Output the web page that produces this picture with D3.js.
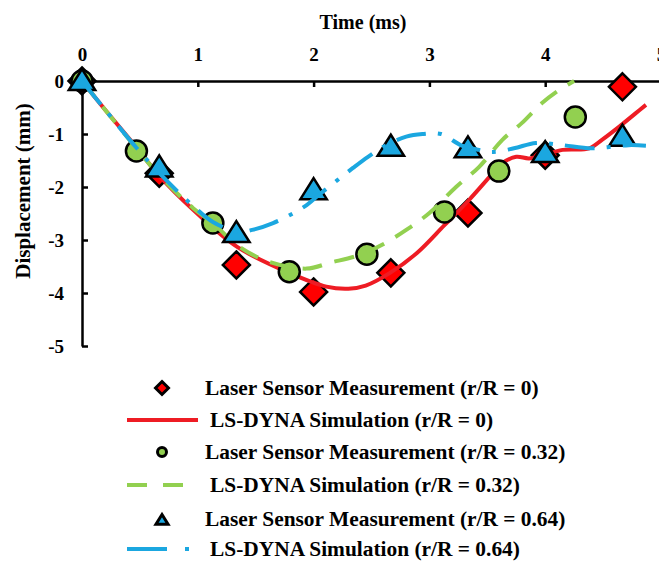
<!DOCTYPE html>
<html>
<head>
<meta charset="utf-8">
<script src="https://cdn.jsdelivr.net/npm/d3@7"></script>
<style>
  html, body { margin: 0; padding: 0; background: #fff; }
  svg { display: block; }
  text { font-family: "Times New Roman", "Liberation Serif", "DejaVu Serif", serif; font-weight: bold; fill: #000; }
</style>
</head>
<body>
<svg id="chart" width="659" height="563"></svg>
<script>
// Axis ticks
const timeTicks = [0, 1, 2, 3, 4, 5];
const dispTicks = [0, -1, -2, -3, -4, -5];

// Laser sensor measurements: time (ms) and displacement (mm)
const laserT0 = [0, 0.667, 1.333, 2.0, 2.667, 3.333, 4.0, 4.667];
const laserD0 = [0, -1.74, -3.47, -3.98, -3.62, -2.49, -1.40, -0.11];

const laserT32 = [0, 0.47, 1.13, 1.79, 2.46, 3.13, 3.6, 4.26];
const laserD32 = [0, -1.32, -2.68, -3.60, -3.27, -2.47, -1.70, -0.68];

const laserT64 = [0, 0.667, 1.333, 2.0, 2.667, 3.333, 4.0, 4.667];
const laserD64 = [0, -1.63, -2.87, -2.06, -1.24, -1.27, -1.36, -1.05];

// LS-DYNA simulation curves
const simT0 = [0, 0.18, 0.47, 0.66, 0.96, 1.34, 1.79, 2.11, 2.3, 2.45, 2.66, 2.89, 3.13, 3.34, 3.52, 3.63, 3.75, 3.86, 3.98, 4.15, 4.38, 4.49, 4.64, 4.78, 4.87];
const simD0 = [0, -0.49, -1.25, -1.77, -2.43, -3.13, -3.62, -3.88, -3.92, -3.86, -3.62, -3.25, -2.72, -2.25, -1.81, -1.55, -1.43, -1.46, -1.40, -1.30, -1.27, -1.11, -0.86, -0.61, -0.45];

const simT32 = [0, 0.18, 0.47, 0.66, 0.96, 1.13, 1.34, 1.6, 1.94, 2.14, 2.4, 2.6, 2.8, 3.0, 3.23, 3.43, 3.63, 3.8, 3.97, 4.12, 4.25];
const simD32 = [0, -0.49, -1.27, -1.76, -2.40, -2.68, -3.10, -3.40, -3.54, -3.43, -3.28, -3.08, -2.81, -2.49, -2.00, -1.62, -1.11, -0.79, -0.42, -0.17, 0];

const simT64 = [0, 0.18, 0.47, 0.66, 0.96, 1.13, 1.35, 1.47, 1.65, 1.82, 1.94, 2.05, 2.2, 2.34, 2.47, 2.62, 2.8, 2.94, 3.1, 3.28, 3.43, 3.54, 3.73, 3.92, 4.15, 4.4, 4.72, 4.87];
const simD64 = [0, -0.49, -1.26, -1.72, -2.36, -2.66, -2.85, -2.81, -2.68, -2.50, -2.34, -2.14, -1.88, -1.64, -1.43, -1.22, -1.05, -1.00, -1.00, -1.22, -1.30, -1.34, -1.27, -1.17, -1.21, -1.27, -1.21, -1.22];

const legendLabels = [
  "Laser Sensor Measurement (r/R = 0)",
  "LS-DYNA Simulation (r/R = 0)",
  "Laser Sensor Measurement (r/R = 0.32)",
  "LS-DYNA Simulation (r/R = 0.32)",
  "Laser Sensor Measurement (r/R = 0.64)",
  "LS-DYNA Simulation (r/R = 0.64)"
];

const RED = "#ff0000", RED_LINE = "#ee1c24";
const GREEN = "#92d050";
const BLUE = "#1ba7e0";

const svg = d3.select("#chart");

const x = d3.scaleLinear().domain([0, 5]).range([82, 661]);
const y = d3.scaleLinear().domain([0, -5]).range([81, 346]);

const zip = (ts, ds) => ts.map((t, i) => ({ t, d: ds[i] }));
const plain = d => String(d); // hyphen-minus for negative labels

// Axes
const xAxis = d3.axisTop(x).tickValues(timeTicks).tickFormat(plain)
  .tickSizeInner(-6).tickSizeOuter(0).tickPadding(20);
const gx = svg.append("g").attr("transform", `translate(0,${y(0)})`).call(xAxis);
gx.selectAll("text").style("font-size", "19px");

const yAxis = d3.axisLeft(y).tickValues(dispTicks).tickFormat(plain)
  .tickSizeInner(-6).tickSizeOuter(0).tickPadding(18);
const gy = svg.append("g").attr("transform", `translate(${x(0)},0)`).call(yAxis);
gy.selectAll("text").style("font-size", "19px").attr("dy", "0.36em");

[gx, gy].forEach(g => {
  g.attr("font-family", null);
  g.select(".domain").attr("stroke", "#000").attr("stroke-width", 2.5);
  g.selectAll(".tick line").attr("stroke", "#000").attr("stroke-width", 2.5);
});
gy.selectAll(".tick").filter(d => d === 0).select("line").remove();
gx.selectAll(".tick").filter(d => d === 0).select("line").remove();

// Axis titles
svg.append("text").attr("x", 363).attr("y", 29).attr("text-anchor", "middle")
  .style("font-size", "20px").text("Time (ms)");
svg.append("text").attr("transform", "translate(30,191) rotate(-90)")
  .attr("text-anchor", "middle").style("font-size", "21px").text("Displacement (mm)");

// Marker shapes
const diamond = s => `M0,${-s}L${s},0L0,${s}L${-s},0Z`;
const triangle = s => `M0,${-s}L${s * 1.1},${s * 0.75}L${-s * 1.1},${s * 0.75}Z`;

const line = d3.line().x(p => x(p.t)).y(p => y(p.d)).curve(d3.curveCatmullRom.alpha(0.5));

// Series drawn in order: measurement then simulation for each radius
svg.append("g").selectAll("path").data(zip(laserT0, laserD0)).join("path")
  .attr("transform", p => `translate(${x(p.t)},${y(p.d)})`)
  .attr("d", diamond(13.5)).attr("fill", RED).attr("stroke", "#000").attr("stroke-width", 2.5);

svg.append("path").datum(zip(simT0, simD0)).attr("d", line)
  .attr("fill", "none").attr("stroke", RED_LINE).attr("stroke-width", 4);

svg.append("g").selectAll("circle").data(zip(laserT32, laserD32)).join("circle")
  .attr("cx", p => x(p.t)).attr("cy", p => y(p.d)).attr("r", 10.5)
  .attr("fill", GREEN).attr("stroke", "#000").attr("stroke-width", 2.5);

svg.append("path").datum(zip(simT32, simD32)).attr("d", line)
  .attr("fill", "none").attr("stroke", GREEN).attr("stroke-width", 4)
  .attr("stroke-dasharray", "20,13");

svg.append("g").selectAll("path").data(zip(laserT64, laserD64)).join("path")
  .attr("transform", p => `translate(${x(p.t)},${y(p.d)})`)
  .attr("d", triangle(12)).attr("fill", BLUE).attr("stroke", "#000").attr("stroke-width", 2.5)
  .attr("stroke-linejoin", "miter");

svg.append("path").datum(zip(simT64, simD64)).attr("d", line)
  .attr("fill", "none").attr("stroke", BLUE).attr("stroke-width", 4)
  .attr("stroke-dasharray", "30,12,4,12");

// Legend
const rowY = [388, 420, 452, 485, 519, 549];
const lg = svg.append("g");
rowY.forEach((ry, i) => {
  const textX = i % 2 === 0 ? 205 : 210;
  lg.append("text").attr("x", textX).attr("y", ry).attr("dy", "0.35em")
    .style("font-size", "21.4px").text(legendLabels[i]);
});
lg.append("path").attr("transform", `translate(162,${rowY[0]})`).attr("d", diamond(6.5))
  .attr("fill", RED).attr("stroke", "#000").attr("stroke-width", 3);
lg.append("line").attr("x1", 127).attr("x2", 198).attr("y1", rowY[1]).attr("y2", rowY[1])
  .attr("stroke", RED_LINE).attr("stroke-width", 4);
lg.append("circle").attr("cx", 162).attr("cy", rowY[2]).attr("r", 4.5)
  .attr("fill", GREEN).attr("stroke", "#000").attr("stroke-width", 3);
lg.append("line").attr("x1", 127).attr("x2", 183).attr("y1", rowY[3]).attr("y2", rowY[3])
  .attr("stroke", GREEN).attr("stroke-width", 4).attr("stroke-dasharray", "20,16");
lg.append("path").attr("transform", `translate(162,${rowY[4] + 1})`).attr("d", triangle(5.5))
  .attr("fill", BLUE).attr("stroke", "#000").attr("stroke-width", 3);
lg.append("line").attr("x1", 127).attr("x2", 189).attr("y1", rowY[5]).attr("y2", rowY[5])
  .attr("stroke", BLUE).attr("stroke-width", 4).attr("stroke-dasharray", "40,18,4,30");
</script>
</body>
</html>
